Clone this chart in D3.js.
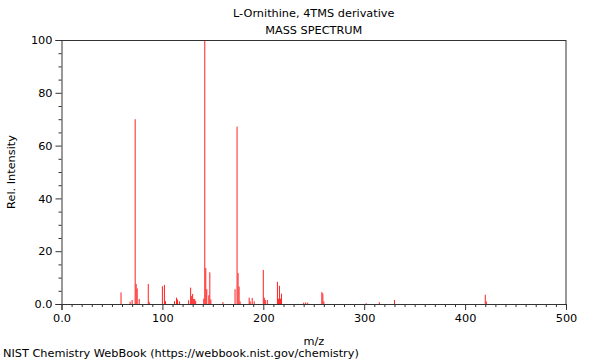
<!DOCTYPE html>
<html>
<head>
<meta charset="utf-8">
<script src="https://cdn.jsdelivr.net/npm/d3@7"></script>
<style>
  html, body { margin: 0; padding: 0; background: #fff; }
  svg { display: block; }
  text { font-family: "DejaVu Sans", sans-serif; font-size: 11.3px; fill: #000; }
</style>
</head>
<body>
<svg id="chart" width="600" height="360"></svg>
<script>
const titleText = "L-Ornithine, 4TMS derivative";
const subtitleText = "MASS SPECTRUM";
const xLabel = "m/z";
const yLabel = "Rel. Intensity";
const footerText = "NIST Chemistry WebBook (https://webbook.nist.gov/chemistry)";

const mz = [59, 68, 70, 73, 74, 75, 77, 86, 87, 100, 102, 103, 112, 114, 115, 117,
  126, 128, 129, 130, 131, 132, 133, 141, 142, 143, 144, 146, 147, 148, 160,
  172, 174, 175, 176, 177, 186, 187, 189, 191, 200, 201, 202, 204,
  214, 215, 216, 217, 218, 240, 242, 244, 258, 259, 260, 302, 315, 330, 420, 421];
const intensity = [4.4, 0.9, 1.5, 70, 7.6, 5.9, 1.9, 7.6, 0.7, 6.7, 7.2, 1.1, 1.1, 2.4, 1.7, 1.0,
  1.4, 6.2, 3.0, 3.8, 1.9, 1.9, 1.2, 2.0, 100, 13.6, 5.6, 3.3, 12.0, 1.7, 0.7,
  5.6, 67.2, 11.7, 6.6, 1.0, 2.4, 1.0, 2.3, 1.0, 12.9, 2.4, 1.5, 1.5,
  8.4, 2.0, 6.9, 2.0, 3.9, 0.5, 0.6, 0.5, 4.5, 4.0, 1.0, 0.3, 0.7, 1.5, 3.5, 1.0];

const xMajorTicks = [0, 100, 200, 300, 400, 500];
const xTickLabels = ["0.0", "100", "200", "300", "400", "500"];
const yMajorTicks = [0, 20, 40, 60, 80, 100];
const yTickLabels = ["0.0", "20", "40", "60", "80", "100"];

(function () {
const svg = d3.select("#chart");
const mLeft = 61.5, mRight = 566, mTop = 40, mBottom = 304;

const x = d3.scaleLinear().domain([0, 500]).range([mLeft, mRight]);
const y = d3.scaleLinear().domain([0, 100]).range([mBottom, mTop]);

const axisColor = "#333";
const fontSize = "11.3px";

// peaks
svg.append("g").selectAll("line")
  .data(mz.map((m, i) => ({ m, v: intensity[i] })))
  .join("line")
  .attr("x1", d => x(d.m)).attr("x2", d => x(d.m))
  .attr("y1", y(0)).attr("y2", d => y(d.v))
  .attr("stroke", "#ff2020")
  .attr("stroke-width", 1);

// frame top and right
svg.append("line").attr("x1", mLeft).attr("x2", mRight).attr("y1", mTop + 0.5).attr("y2", mTop + 0.5)
  .attr("stroke", axisColor);
svg.append("line").attr("x1", mRight).attr("x2", mRight).attr("y1", mTop).attr("y2", mBottom)
  .attr("stroke", axisColor);

// x axis
const xMinor = d3.range(0, 501, 10).filter(v => v % 100 !== 0);
const gx = svg.append("g").attr("transform", `translate(0,${mBottom})`);
gx.call(d3.axisBottom(x).tickValues(xMinor).tickSize(3).tickFormat(""))
  .call(g => g.select(".domain").remove());
gx.append("g").call(d3.axisBottom(x).tickValues(xMajorTicks).tickSize(6).tickPadding(4)
  .tickFormat((d, i) => xTickLabels[i]));
gx.selectAll("line").attr("stroke", axisColor);
gx.selectAll("path.domain").attr("stroke", axisColor);
gx.selectAll("text").style("font-family", "DejaVu Sans").style("font-size", fontSize).attr("fill", "#000");

// y axis
const yMinor = d3.range(0, 101, 5).filter(v => v % 20 !== 0);
const gy = svg.append("g").attr("transform", `translate(${mLeft},0)`);
gy.call(d3.axisLeft(y).tickValues(yMinor).tickSize(3).tickFormat(""))
  .call(g => g.select(".domain").remove());
gy.append("g").call(d3.axisLeft(y).tickValues(yMajorTicks).tickSize(6).tickPadding(3)
  .tickFormat((d, i) => yTickLabels[i]));
gy.selectAll("line").attr("stroke", axisColor);
gy.selectAll("path.domain").attr("stroke", axisColor);
gy.selectAll("text").style("font-family", "DejaVu Sans").style("font-size", fontSize).attr("fill", "#000");

// texts
const cx = (mLeft + mRight) / 2;
svg.append("text").attr("x", cx).attr("y", 17).attr("text-anchor", "middle").text(titleText);
svg.append("text").attr("x", cx).attr("y", 34).attr("text-anchor", "middle").text(subtitleText);
svg.append("text").attr("x", cx).attr("y", 345).attr("text-anchor", "middle").text(xLabel);
svg.append("text").attr("transform", `translate(15,${(mTop + mBottom) / 2}) rotate(-90)`)
  .attr("text-anchor", "middle").text(yLabel);
svg.append("text").attr("x", 3).attr("y", 357).text(footerText);
})();
</script>
</body>
</html>
